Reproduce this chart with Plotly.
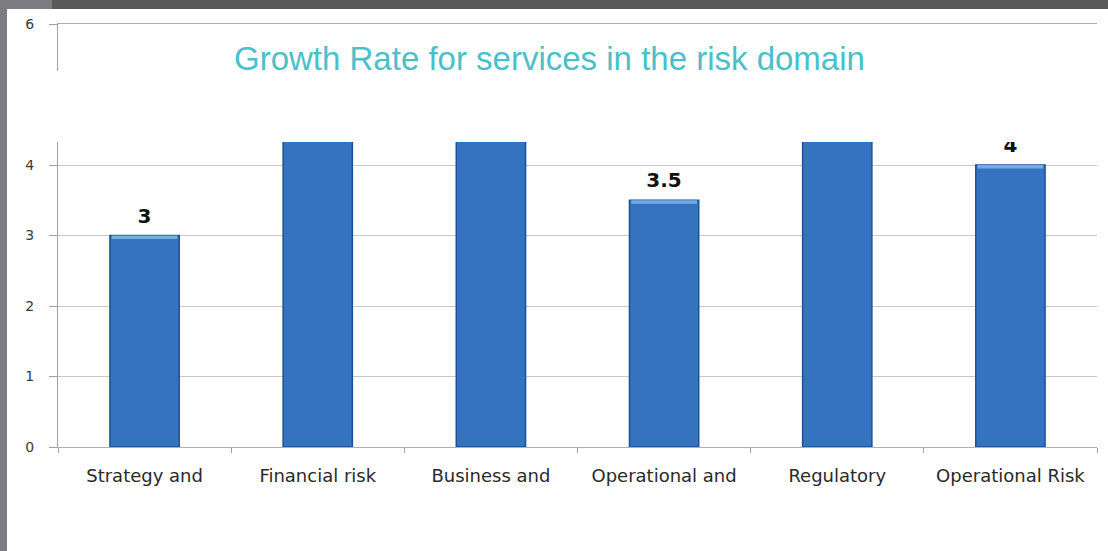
import plotly.graph_objects as go

# Growth rate per service area in the risk domain
categories = ["Strategy and", "Financial risk", "Business and",
              "Operational and", "Regulatory", "Operational Risk"]
growth = [3, 4.5, 4.5, 3.5, 4.5, 4]
value_labels = ["3", "4.5", "4.5", "3.5", "4.5", "4"]
y_ticks = [0, 1, 2, 3, 4, 5, 6]

W, H = 1108, 551
L, R, T, B = 58, 11, 24, 104
pw, ph = W - L - R, H - T - B
BEVEL = 0.05  # depth of the light cap on top of each bar, in axis units


def px(x):
    return (x - L) / pw


def py(y):
    return (H - B - y) / ph


fig = go.Figure()
fig.add_trace(go.Bar(
    x=categories, y=growth,
    marker=dict(color="#3573c0", line=dict(color="#1d5192", width=1.5)),
    width=0.4, hoverinfo="skip",
))
# light bevel along the top edge of each bar
fig.add_trace(go.Bar(
    x=categories, y=[BEVEL] * len(growth), base=[g - BEVEL for g in growth],
    marker=dict(color="#74ade6", line=dict(width=0)),
    width=0.38, hoverinfo="skip",
))
# value labels sit above each bar (invisible marker pushes the text up)
fig.add_trace(go.Scatter(
    x=categories, y=growth, mode="markers+text",
    text=value_labels, textposition="top center",
    textfont=dict(family="DejaVu Sans", size=20, color="#111111", weight="bold"),
    marker=dict(size=11, opacity=0),
    cliponaxis=False, hoverinfo="skip",
))

shapes = [
    # slide frame: top band and left strip
    dict(type="rect", xref="paper", yref="paper", x0=px(52), x1=px(W), y0=py(0), y1=py(9),
         fillcolor="#58595b", line_width=0, layer="above"),
    dict(type="rect", xref="paper", yref="paper", x0=px(0), x1=px(52), y0=py(0), y1=py(9),
         fillcolor="#7b7c80", line_width=0, layer="above"),
    dict(type="rect", xref="paper", yref="paper", x0=px(0), x1=px(7), y0=py(0), y1=py(H),
         fillcolor="#7b7c80", line_width=0, layer="above"),
    # white title panel laid over the chart
    dict(type="rect", xref="paper", yref="paper", x0=px(7), x1=px(W), y0=py(71), y1=py(142),
         fillcolor="white", line_width=0, layer="above"),
]

fig.update_layout(
    width=W, height=H,
    margin=dict(l=L, r=R, t=T, b=B),
    paper_bgcolor="white", plot_bgcolor="white",
    showlegend=False,
    barmode="overlay",
    shapes=shapes,
    annotations=[dict(
        text="Growth Rate for services in the risk domain",
        xref="paper", yref="paper", x=px(549), y=py(58),
        xanchor="center", yanchor="middle", showarrow=False,
        font=dict(family="Liberation Sans", size=33, color="#4bbfca"),
    )],
    xaxis=dict(
        tickson="boundaries", ticks="outside", ticklen=5, tickcolor="#a0a0a0",
        showline=True, linecolor="#b0b0b0", linewidth=1, mirror=True,
        showgrid=False, ticklabelstandoff=12,
        tickfont=dict(family="DejaVu Sans", size=18, color="#2a2a2a"),
    ),
    yaxis=dict(
        range=[0, 6], tickvals=y_ticks, ticks="outside", ticklen=8,
        tickcolor="#a0a0a0", showline=True, linecolor="#a0a0a0", linewidth=1,
        showgrid=True, gridcolor="#c8c8c8", gridwidth=1, zeroline=False,
        ticklabelstandoff=12,
        tickfont=dict(family="DejaVu Sans", size=14, color="#3a3a3a"),
    ),
)

fig.write_html("out.html")
